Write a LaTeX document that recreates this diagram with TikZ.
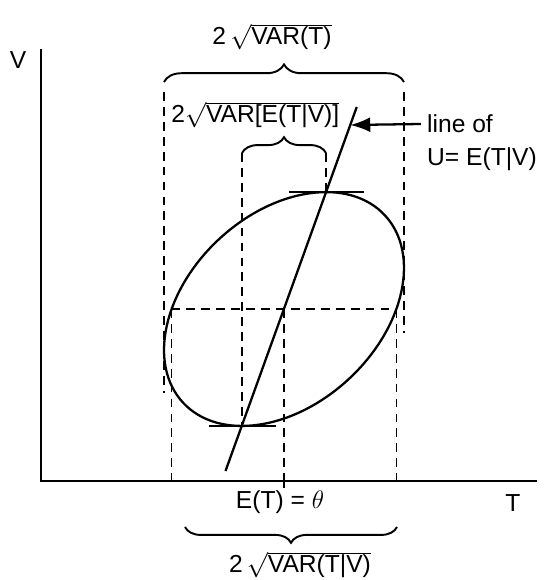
\documentclass[tikz,border=0pt]{standalone}
\usepackage{fontspec}
\setmainfont{Liberation Sans}
\usetikzlibrary{arrows.meta,positioning,decorations.pathreplacing}

\begin{document}
\begin{tikzpicture}[>={Latex[length=4mm,width=3mm]},
  axis/.style={line width=1.6pt},
  curve/.style={line width=1.3pt},
  guide/.style={line width=0.8pt,dash pattern=on 5pt off 3.5pt},
  brc/.style={decorate,decoration={brace,amplitude=#1},line width=1.1pt},
  lbl/.style={font=\fontsize{14}{18}\selectfont}]
\useasboundingbox (-0.82,-1.98) rectangle (10.10,9.62);
% axes
\coordinate (O) at (0,0);
\coordinate (vtop) at (0,8.64);
\coordinate (tend) at (9.92,0);
\draw[axis] (vtop) -- (O) -- (tend);
\node[lbl] (vlab) at (-0.46,8.42) {V};
\node[lbl] (tlab) at (9.44,-0.44) {T};
% ellipse and its points
\coordinate (C) at (4.86,3.44);
\coordinate (ptop) at (5.70,5.78);
\coordinate (pbot) at (4.02,1.10);
\coordinate (pl) at (2.46,2.62);
\coordinate (pr) at (7.26,4.26);
\coordinate (cl) at (2.61,3.44);
\coordinate (cr) at (7.11,3.44);
\draw[curve,rotate around={42.9:(C)}] (C) ellipse [x radius=2.754cm, y radius=1.908cm];
\draw[curve] ([xshift=-0.74cm]ptop) -- ([xshift=0.76cm]ptop);
\draw[curve] ([xshift=-0.67cm]pbot) -- ([xshift=0.67cm]pbot);
% regression line
\coordinate (rtop) at (6.315,7.48);
\coordinate (rbot) at (3.69,0.20);
\coordinate (tip) at (6.185,7.12);
\draw[curve] (rbot) -- (rtop);
% dashed guides
\draw[guide] (pl |- 0,7.78) -- (pl |- 0,1.76);
\draw[guide] (pr |- 0,7.78) -- (pr |- 0,2.96);
\draw[guide] (pbot |- 0,6.56) -- (pbot);
\draw[guide] (ptop |- 0,6.56) -- (ptop);
\draw[guide] (cl) -- (cr);
\draw[guide] (cl) -- (cl |- O);
\draw[guide] (cr) -- (cr |- O);
\draw[guide] (C) -- (C |- O);
\draw[line width=1pt] (C |- O) -- ++(0,-0.14);
% braces
\draw[brc=10pt] (pl |- 0,7.98) -- (pr |- 0,7.98);
\draw[brc=9pt] (pbot |- 0,6.56) -- (ptop |- 0,6.56);
\draw[brc=9pt] (7.12,-0.92) -- (2.88,-0.92);
% labels
\node[lbl] (vart) at (4.62,8.88) {2\,$\sqrt{\hbox{VAR(T)}}$};
\node[lbl,anchor=west,inner sep=0pt] (varet) at (2.60,7.32) {2$\sqrt{\hbox{VAR[E(T|V)]}}$};
\node[lbl] (mean) at (4.78,-0.42) {E(T) = $\theta$};
\node[lbl] (vartv) at (5.18,-1.68) {2\,$\sqrt{\hbox{VAR(T|V)}}$};
\node[lbl,anchor=west] (lineof) at (7.60,7.14) {line of};
\node[lbl,below=0.05cm of lineof.south west,anchor=north west] (ueq) {U= E(T|V)};
\draw[->,line width=1.3pt] (lineof.west) -- (tip);
\end{tikzpicture}
\end{document}
